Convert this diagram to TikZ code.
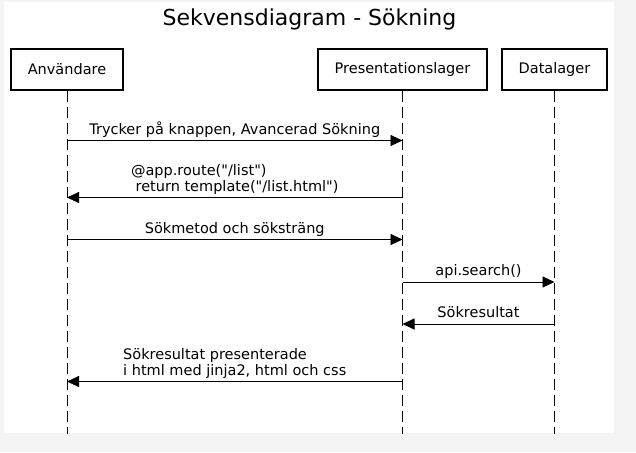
\documentclass[tikz,border=0pt]{standalone}
\usepackage{fontspec}
\setmainfont{DejaVu Sans}[Ligatures=TeXOff]
\usetikzlibrary{arrows.meta, positioning, calc}
\definecolor{pagegray}{HTML}{F4F4F4}

\begin{document}
\begin{tikzpicture}[x=1pt, y=-1pt, node distance=193pt,
    actor/.style={rectangle, draw, line width=2pt, minimum height=41pt, text centered, font=\fontsize{14.5}{16.5}\selectfont},
    lifeline/.style={line width=0.9pt, dash pattern=on 11pt off 5pt},
    msg/.style={line width=0.9pt, -{Triangle[length=12pt, width=11pt]}},
    lbl/.style={above=6pt, inner sep=0pt, text depth=0pt, align=left, font=\fontsize{14.5}{16}\selectfont}]

    % canvas
    \fill[pagegray] (0,0) rectangle (636,452);
    \fill[white] (4,2) rectangle (614,433);
    \node (title) [anchor=base, font=\fontsize{22}{26}\selectfont] at (309.5,26) {Sekvensdiagram - Sökning};

    % participants
    \node (user) [actor, minimum width=112pt] at (67,69.5) {Användare};
    \node (pres) [actor, minimum width=169pt, right=of user] {Presentationslager};
    \node (data) [actor, minimum width=105pt, right=13pt of pres] {Datalager};
    \coordinate (bottom) at (0,434);

    \draw [lifeline] (user.south) -- (user |- bottom);
    \draw [lifeline] (pres.south) -- (pres |- bottom);
    \draw [lifeline] (data.south) -- (data |- bottom);

    % message levels
    \coordinate (m1) at (0,140.5);
    \coordinate (m2) at (0,197.5);
    \coordinate (m3) at (0,239.5);
    \coordinate (m4) at (0,282);
    \coordinate (m5) at (0,324);
    \coordinate (m6) at (0,381.5);

    \draw [msg] (user |- m1) -- node [lbl] {Trycker på knappen, Avancerad Sökning} (pres |- m1);
    \draw [msg] (pres |- m2) -- node [lbl] {@app.route("/list")\\~return template("/list.html")} (user |- m2);
    \draw [msg] (user |- m3) -- node [lbl] {Sökmetod och söksträng} (pres |- m3);
    \draw [msg] (pres |- m4) -- node [lbl] {api.search()} (data |- m4);
    \draw [msg] (data |- m5) -- node [lbl] {Sökresultat} (pres |- m5);
    \draw [msg] (pres |- m6) -- node [lbl] {Sökresultat presenterade\\i html med jinja2, html och css} (user |- m6);
\end{tikzpicture}
\end{document}
